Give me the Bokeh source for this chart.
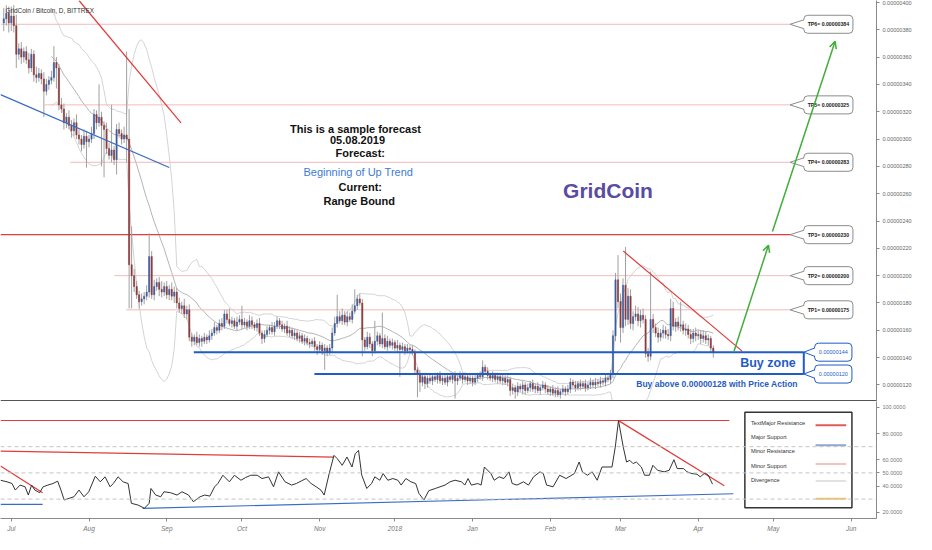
import numpy as np
import pandas as pd
from bokeh.plotting import figure
from bokeh.layouts import column
from bokeh.models import Range1d, FixedTicker, Arrow, OpenHead, Span, AllLabels
from bokeh.core.properties import value
from bokeh.embed import file_html
from bokeh.resources import INLINE

# ---------------- data ----------------
start_day = -3          # day index of first candle (0 = 1 Jul)
first_open = 385
closes = [388, 392, 385, 390, 383, 362, 366, 360, 364, 358, 352, 362, 347, 345, 348,
          344, 335, 340, 343, 345, 356, 352, 325, 322, 312, 316, 310, 306, 312, 303,
          300, 296, 302, 298, 300, 304, 318, 312, 316, 310, 307, 293, 288, 292, 285,
          307, 304, 300, 303, 300, 208, 200, 192, 186, 181, 183, 185, 188, 214, 186,
          192, 195, 190, 188, 192, 186, 190, 185, 188, 180, 176, 178, 172, 175, 155,
          152, 155, 151, 154, 152, 155, 153, 156, 158, 162, 160, 165, 163, 172, 168,
          165, 167, 163, 166, 168, 164, 166, 163, 167, 164, 162, 165, 158, 154, 157,
          160, 162, 159, 163, 167, 164, 161, 163, 158, 160, 156, 158, 154, 156, 152,
          154, 151, 150, 152, 148, 146, 149, 145, 147, 144, 147, 158, 165, 170, 167,
          171, 166, 170, 168, 174, 178, 183, 180, 153, 148, 155, 150, 145, 152, 156,
          150, 154, 148, 152, 149, 151, 147, 149, 146, 148, 145, 147, 146, 144, 131,
          128, 122, 126, 121, 125, 123, 126, 124, 127, 123, 125, 122, 126, 124, 127,
          123, 125, 127, 124, 126, 123, 125, 122, 125, 127, 126, 133, 130, 127, 125,
          127, 124, 126, 123, 125, 122, 124, 116, 118, 115, 119, 117, 120, 116, 118,
          121, 117, 119, 116, 118, 120, 117, 115, 117, 114, 116, 113, 115, 117, 115,
          117, 122, 120, 118, 121, 119, 121, 118, 120, 122, 120, 122, 121, 123, 122,
          125, 124, 128, 156, 197, 181, 162, 193, 168, 185, 165, 170, 172, 167, 171,
          168, 143, 141, 168, 162, 158, 155, 158, 160, 157, 156, 176, 163, 166, 163,
          164, 160, 161, 157, 154, 158, 156, 157, 154, 156, 153, 154, 147, 144]
upper_wick = [8, 6, 5, 7, 8, 8, 4, 5, 3, 4, 5, 4, 3, 6, 4, 3, 5, 4, 3, 5,
              12, 4, 3, 5, 4, 3, 5, 4, 3, 6, 4, 3, 5, 4, 3, 5, 4, 3, 24, 4,
              3, 5, 4, 33, 3, 4, 5, 3, 6, 61, 22, 28, 5, 4, 3, 4, 3, 5, 17, 4,
              5, 3, 4, 6, 3, 4, 3, 5, 4, 3, 4, 3, 5, 3, 4, 3, 2, 4, 3, 2,
              3, 2, 4, 3, 4, 2, 3, 4, 3, 3, 8, 3, 2, 4, 3, 10, 3, 2, 4, 3,
              2, 3, 4, 2, 3, 3, 2, 4, 3, 3, 2, 3, 2, 4, 3, 2, 3, 2, 3, 2,
              3, 2, 3, 2, 3, 2, 3, 2, 3, 2, 3, 4, 5, 16, 4, 5, 3, 4, 3, 5,
              12, 3, 4, 3, 2, 4, 3, 2, 15, 3, 2, 19, 3, 4, 2, 3, 2, 4, 2, 3,
              2, 3, 2, 3, 2, 2, 3, 2, 3, 2, 3, 2, 3, 2, 3, 2, 3, 2, 3, 2,
              3, 2, 3, 2, 3, 2, 3, 2, 3, 2, 3, 5, 2, 3, 2, 3, 2, 3, 2, 3,
              2, 3, 2, 3, 2, 3, 2, 3, 2, 3, 2, 3, 2, 3, 2, 3, 2, 3, 2, 3,
              2, 3, 2, 3, 2, 3, 3, 2, 3, 2, 3, 2, 3, 2, 3, 2, 3, 2, 3, 2,
              3, 2, 3, 4, 5, 18, 6, 5, 28, 6, 5, 4, 6, 5, 4, 5, 3, 4, 35, 4,
              3, 4, 3, 4, 3, 4, 7, 5, 3, 4, 17, 3, 4, 3, 4, 3, 4, 3, 3, 4,
              3, 3, 2, 2]
lower_wick = [6, 5, 7, 6, 5, 10, 4, 5, 4, 3, 4, 3, 5, 4, 3, 4, 19, 3, 4, 3,
              3, 15, 4, 3, 5, 4, 3, 5, 4, 3, 4, 5, 3, 19, 4, 3, 4, 5, 3, 30,
              35, 4, 3, 5, 4, 11, 3, 4, 3, 17, 32, 24, 4, 3, 5, 3, 4, 3, 4, 3,
              4, 3, 5, 4, 3, 3, 4, 3, 5, 4, 3, 4, 3, 4, 3, 4, 3, 2, 3, 4,
              2, 3, 2, 3, 2, 3, 2, 3, 2, 3, 2, 3, 2, 3, 2, 3, 2, 3, 2, 3,
              2, 3, 2, 4, 3, 2, 3, 2, 3, 2, 3, 2, 3, 2, 3, 2, 3, 2, 3, 2,
              3, 2, 3, 2, 3, 4, 2, 3, 14, 3, 2, 3, 2, 3, 2, 3, 2, 3, 2, 3,
              2, 3, 2, 12, 3, 2, 3, 4, 2, 3, 2, 3, 2, 3, 2, 3, 2, 3, 20, 2,
              3, 2, 3, 2, 3, 17, 7, 3, 4, 3, 2, 3, 2, 3, 2, 3, 2, 3, 2, 3,
              13, 3, 2, 3, 2, 3, 2, 3, 2, 3, 2, 3, 2, 3, 2, 3, 2, 3, 2, 3,
              2, 3, 4, 3, 5, 3, 2, 4, 3, 2, 3, 2, 3, 2, 3, 2, 3, 2, 3, 2,
              3, 2, 3, 2, 3, 2, 3, 2, 3, 2, 3, 2, 3, 2, 3, 2, 3, 2, 3, 2,
              3, 2, 3, 3, 4, 5, 11, 4, 5, 4, 4, 5, 3, 4, 5, 3, 3, 4, 3, 4,
              3, 4, 3, 4, 3, 3, 4, 3, 4, 3, 4, 3, 4, 3, 4, 3, 4, 3, 4, 3,
              3, 4, 3, 4]

rsi_days = [-4.3, -1.7, 0.3, 1.6, 3.5, 5.5, 6.8, 8.1, 9.4, 11.3, 12.7, 14.6, 16.6, 18.5, 19.8,
            21.1, 23.1, 25.0, 27.0, 29.0, 30.9, 33.5, 35.5, 37.4, 39.4, 40.7, 42.6, 44.6, 46.6,
            47.9, 50.5, 53.1, 55.0, 55.7, 57.6, 59.6, 60.9, 63.5, 66.1, 68.1, 70.7, 72.6, 75.3,
            77.2, 79.2, 81.1, 82.4, 84.4, 87.0, 89.0, 91.6, 93.5, 95.5, 98.1, 100.0, 102.6, 104.6,
            106.6, 109.2, 111.8, 113.7, 115.7, 117.6, 119.6, 121.6, 123.5, 124.8, 126.8, 128.7,
            130.0, 132.0, 133.9, 135.9, 137.2, 138.5, 139.8, 141.8, 143.7, 145.0, 147.0, 148.3,
            150.2, 152.2, 154.2, 155.5, 157.4, 159.4, 161.3, 162.6, 164.6, 166.5, 169.1, 171.8,
            173.0, 175.0, 177.0, 179.6, 180.9, 182.2, 183.5, 186.1, 187.4, 188.7, 191.3, 192.6,
            194.6, 196.5, 198.5, 199.8, 201.7, 204.3, 206.3, 208.3, 210.9, 212.2, 213.5, 216.1,
            218.7, 221.3, 224.6, 226.5, 227.8, 229.8, 231.7, 233.7, 235.6, 237.6, 239.6, 240.9,
            242.2, 244.1, 245.4, 246.7, 248.0, 249.3, 251.3, 252.6, 254.5, 255.9, 257.8, 260.4,
            262.4, 264.3, 265.6, 268.2, 269.5, 271.5, 273.5, 274.8, 276.7, 278.0, 279.7]
rsi_vals = [44.4, 43.2, 41.9, 36.9, 40.7, 39.4, 33.1, 40.7, 36.9, 34.9, 39.4, 40.7, 41.9, 43.7, 36.9,
            29.3, 30.6, 31.8, 36.9, 31.8, 35.6, 47.5, 43.2, 47.0, 39.4, 41.9, 47.0, 43.2, 41.9,
            26.8, 25.5, 23.0, 26.8, 38.1, 33.1, 31.8, 35.6, 34.9, 33.1, 35.6, 33.1, 28.0, 31.8,
            33.1, 32.3, 39.4, 41.9, 48.2, 43.2, 48.2, 44.4, 46.5, 48.2, 48.2, 45.7, 47.0, 39.4,
            50.8, 43.2, 40.7, 41.9, 43.9, 45.7, 41.9, 39.4, 36.9, 33.1, 49.5, 63.4,
            60.9, 55.8, 62.1, 54.5, 64.7, 67.2, 48.2, 38.1, 41.9, 47.0, 44.4, 49.5,
            44.4, 45.7, 44.4, 40.7, 45.7, 43.2, 41.9, 34.3, 29.3, 36.4, 38.1, 39.9,
            40.7, 43.2, 44.4, 43.2, 40.7, 45.7, 40.7, 41.9, 40.7, 54.5, 49.5, 44.4,
            47.0, 45.7, 50.8, 41.9, 40.7, 43.2, 40.7, 47.0, 50.8, 49.5, 40.7, 39.4,
            48.2, 45.7, 49.5, 58.3, 50.8, 48.2, 50.8, 44.4, 54.5, 54.5, 54.5, 69.7,
            89.9, 69.7, 58.3, 59.6, 57.1, 58.3, 54.5, 48.2, 48.2, 55.8, 52.0, 50.8,
            52.0, 60.1, 53.3, 53.3, 50.8, 49.5, 49.0, 47.0, 50.0, 48.2, 41.4]

price_ticks = [120, 140, 160, 180, 200, 220, 240, 260, 280, 300, 320, 340, 360, 380, 400]
rsi_ticks = [20, 40, 50, 60, 80, 100]
month_ticks = [0, 31, 62, 92, 123, 153, 184, 215, 243, 274, 304, 335]
month_labels = ["Jul", "Aug", "Sep", "Oct", "Nov", "2018", "Jan", "Feb", "Mar", "Apr", "May", "Jun"]

tp_names = ["TP1", "TP2", "TP3", "TP4", "TP5", "TP6"]
tp_levels = [175, 200, 230, 283, 325, 384]
buy_zone = [144, 128]
buy_labels = ["0.00000144", "0.00000120"]

legend_names = ["TextMajor Resistance", "Major Support", "Minor Resistance", "Minor Support", "Divergence"]
legend_colors = ["#e05a5a", "#8ea7cf", "#f3c2c2", "#e2e2e2", "#f0c46a"]

# ---------------- styles ----------------
SANS = value("Liberation Sans, Arial")
W = 916
XR = Range1d(-4.3, 345.1)
RED = "#e23b3b"
PINK = "#f3b9b9"
BLUE = "#1f5cc4"
GREEN = "#3fae3a"

# ---------------- main price panel ----------------
p = figure(width=W, height=401, x_range=XR, y_range=Range1d(107.9, 401.4),
           y_axis_location="right", output_backend="svg", toolbar_location=None,
           min_border_left=0, min_border_top=0, min_border_bottom=0, min_border_right=40,
           background_fill_color="white", border_fill_color="white", outline_line_color=None)
p.xaxis.visible = False
p.grid.visible = False
p.yaxis.ticker = FixedTicker(ticks=price_ticks)
p.yaxis.major_label_overrides = {t: f"{t * 1e-8:.8f}" for t in price_ticks}
p.yaxis.major_label_text_font = "Liberation Sans"
p.yaxis.major_label_text_font_size = "5.5px"
p.yaxis.major_label_text_color = "#666666"
p.yaxis.axis_line_color = "#8a8a8a"
p.yaxis.major_tick_line_color = "#8a8a8a"
p.yaxis.major_tick_out = 3
p.yaxis.major_tick_in = 0
p.yaxis.minor_tick_line_color = None
p.yaxis.major_label_standoff = 3

close = np.array(closes, dtype=float)
openp = np.concatenate([[first_open], close[:-1]])
high = np.maximum(openp, close) + np.array(upper_wick)
low = np.minimum(openp, close) - np.array(lower_wick)
days = np.arange(start_day, start_day + len(close))
up = close >= openp

# Bollinger bands from closes
s = pd.Series(close)
mid = s.rolling(20).mean()
sd = s.rolling(20).std(ddof=0)
p.line(days, mid, line_color="#b4b4b4", line_width=1)
p.line(days, mid + 2 * sd, line_color="#d4d4d4", line_width=1)
p.line(days, mid - 2 * sd, line_color="#d4d4d4", line_width=1)

# horizontal TP lines
tp_starts = [45.8, 41.1, -4.3, 23.5, 13.3, -4.3]
for lvl, x0 in zip(tp_levels, tp_starts):
    col = RED if lvl == 230 else PINK
    p.segment(x0=[x0], y0=[lvl], x1=[310.6], y1=[lvl], line_color=col, line_width=1.2 if lvl == 230 else 1)

# candles
p.segment(days, high, days, low, line_color="#a0a0a0", line_width=1)
p.vbar(x=days[up], width=0.5, top=close[up], bottom=openp[up],
       fill_color="#3c5c9e", line_color="#3c5c9e", line_width=0.5)
p.vbar(x=days[~up], width=0.5, top=openp[~up], bottom=close[~up],
       fill_color="#8d3b3b", line_color="#8d3b3b", line_width=0.5)

# trend lines
p.line([27.0, 67.7], [401.4, 311.9], line_color=RED, line_width=1.2)
p.line([-4.3, 63.0], [332.5, 279.2], line_color="#3a6cc4", line_width=1.2)
p.line([244.1, 291.5], [218.0, 144.8], line_color=RED, line_width=1.2)

# buy zone
p.segment(x0=[72.8, 120.9], y0=buy_zone, x1=[316.1, 316.1], y1=buy_zone, line_color=BLUE, line_width=2)
p.segment(x0=[316.1], y0=[buy_zone[1]], x1=[316.1], y1=[buy_zone[0]], line_color=BLUE, line_width=2)

# TP callouts
for name, lvl in zip(tp_names, tp_levels):
    p.quad(left=[316.1], right=[335.7], bottom=[lvl - 6.6], top=[lvl + 6.6], fill_color="white",
           line_color="#8c8c8c", line_width=1, border_radius=4)
    p.patch([310.6, 316.6, 316.6], [lvl, lvl + 3.2, lvl - 3.2], fill_color="white", line_color=None)
    p.segment(x0=[310.6, 310.6], y0=[lvl, lvl], x1=[316.1, 316.1], y1=[lvl + 3.2, lvl - 3.2],
              line_color="#8c8c8c", line_width=1)
    p.text(x=[325.9], y=[lvl], text=[f"{name}= {lvl * 1e-8:.8f}"], text_font=SANS,
           text_font_style="bold", text_font_size="5.2px", text_color="#222222",
           text_align="center", text_baseline="middle")

# buy-zone callouts
for lvl, lab in zip(buy_zone, buy_labels):
    p.quad(left=[320.4], right=[335.3], bottom=[lvl - 6.6], top=[lvl + 6.6], fill_color="white",
           line_color=BLUE, line_width=1, border_radius=4)
    p.patch([316.1, 320.9, 320.9], [lvl, lvl + 3.0, lvl - 3.0], fill_color="white", line_color=None)
    p.segment(x0=[316.1, 316.1], y0=[lvl, lvl], x1=[320.4, 320.4], y1=[lvl + 3.0, lvl - 3.0],
              line_color=BLUE, line_width=1)
    p.text(x=[327.9], y=[lvl], text=[lab], text_font=SANS, text_font_size="5.5px",
           text_color=BLUE, text_align="center", text_baseline="middle")

# green arrows
for xs, ys, xe, ye in [(288.3, 144.8, 302.0, 222.3), (303.6, 232.3, 328.6, 371.5)]:
    p.add_layout(Arrow(end=OpenHead(size=7, line_color=GREEN, line_width=1.5),
                       x_start=xs, y_start=ys, x_end=xe, y_end=ye,
                       line_color=GREEN, line_width=1.5))

# texts
p.text(x=[137.3, 138.1, 139.2, 139.2, 138.8], y=[307.6, 299.1, 289.8, 264.9, 255.0],
       text=["This is a sample forecast", "05.08.2019", "Forecast:", "Current:", "Range Bound"],
       text_font=SANS, text_font_style="bold", text_font_size="11px", text_color="#111111",
       text_align="center", text_baseline="middle")
p.text(x=[138.4], y=[275.6], text=["Beginning of Up Trend"], text_font=SANS,
       text_font_size="11px", text_color="#3d7bd6", text_align="center", text_baseline="middle")
p.text(x=[238.0], y=[262.1], text=["GridCoin"], text_font=SANS, text_font_style="bold",
       text_font_size="21px", text_color="#5a4ba3", text_align="center", text_baseline="middle")
p.text(x=[301.8], y=[136.3], text=["Buy zone"], text_font=SANS, text_font_style="bold",
       text_font_size="12.5px", text_color=BLUE, text_align="center", text_baseline="middle")
p.text(x=[281.5], y=[120.7], text=["Buy above 0.00000128 with Price Action"], text_font=SANS,
       text_font_style="bold", text_font_size="8.5px", text_color=BLUE, text_align="center",
       text_baseline="middle")
p.text(x=[-2.3], y=[394.3], text=["GridCoin / Bitcoin, D, BITTREX"], text_font=SANS,
       text_font_size="6.4px", text_color="#333333", text_align="left", text_baseline="middle")

p.add_layout(Span(location=108.4, dimension="width", line_color="#555555", line_width=1.5))

# ---------------- indicator panel ----------------
q = figure(width=W, height=133, x_range=XR, y_range=Range1d(15.2, 104.5),
           y_axis_location="right", output_backend="svg", toolbar_location=None,
           min_border_left=0, min_border_top=0, min_border_bottom=0, min_border_right=40,
           background_fill_color="white", border_fill_color="white", outline_line_color=None)
q.grid.visible = False
q.yaxis.ticker = FixedTicker(ticks=rsi_ticks)
q.yaxis.major_label_overrides = {t: f"{t:.4f}" for t in rsi_ticks}
q.yaxis.major_label_policy = AllLabels()
q.xaxis.ticker = FixedTicker(ticks=month_ticks)
q.xaxis.major_label_overrides = dict(zip(month_ticks, month_labels))
for ax in (q.xaxis, q.yaxis):
    ax.major_label_text_font = "Liberation Sans"
    ax.major_label_text_color = "#777777"
    ax.axis_line_color = "#8a8a8a"
    ax.major_tick_line_color = "#8a8a8a"
    ax.major_tick_out = 3
    ax.major_tick_in = 0
    ax.minor_tick_line_color = None
    ax.major_label_standoff = 3
q.yaxis.major_label_text_font_size = "5.5px"
q.xaxis.major_label_text_font_size = "6.5px"
q.xaxis.major_label_text_font_style = "italic"

for lvl in (70, 50, 30):
    q.add_layout(Span(location=lvl, dimension="width", line_color="#c4c4c4", line_width=1,
                      line_dash="4 3"))

q.segment(x0=[-4.3], y0=[90.0], x1=[286.4], y1=[90.0], line_color=RED, line_width=1.2)
q.line([-4.3, 128.7], [66.7, 62.1], line_color=RED, line_width=1.2)
q.line([-4.3, 12.5], [55.3, 34.8], line_color=RED, line_width=1.2)
q.line([-4.3, 12.5], [26.0, 26.0], line_color="#3a6cc4", line_width=1.2)
q.line([52.4, 288.0], [23.0, 34.1], line_color="#3a6cc4", line_width=1.2)
q.line([242.2, 284.4], [89.9, 40.2], line_color=RED, line_width=1.2)

q.line(rsi_days, rsi_vals, line_color="#333333", line_width=1)

# legend box
q.quad(left=[292.6], right=[335.3], bottom=[23.5], top=[96.2], fill_color="white",
       line_color="#333333", line_width=1.5)
q.text(x=[295.0] * 5, y=[87.9, 77.3, 66.7, 55.3, 44.7], text=legend_names, text_font=SANS,
       text_font_size="5.7px", text_color="#333333", text_align="left", text_baseline="middle")
q.segment(x0=[320.8] * 5, y0=[86.4, 71.2, 56.8, 43.9, 30.3], x1=[333.0] * 5,
          y1=[86.4, 71.2, 56.8, 43.9, 30.3], line_color=legend_colors, line_width=2)

layout = column(p, q, spacing=0)
open("out.html", "w").write(file_html(layout, INLINE))
